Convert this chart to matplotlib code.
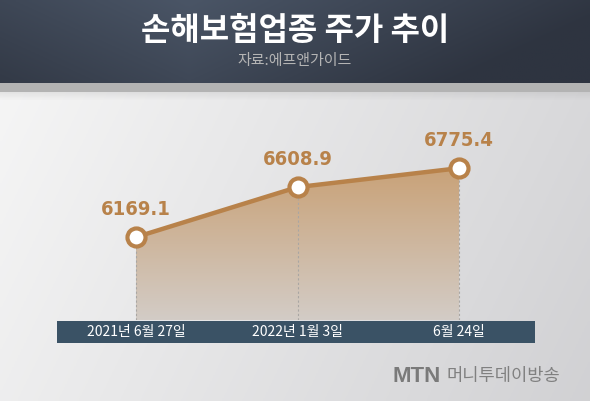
import numpy as np
import matplotlib
matplotlib.use("Agg")
import matplotlib.pyplot as plt
from matplotlib.patches import Rectangle, Polygon

# --- data ---------------------------------------------------------------
dates = ["2021년 6월 27일", "2022년 1월 3일", "6월 24일"]
values = [6169.1, 6608.9, 6775.4]
title = "손해보험업종 주가 추이"
source = "자료:에프앤가이드"

W, H = 590, 401
KR = ["Noto Sans CJK KR", "DejaVu Sans"]
BROWN = "#b8824a"

fig = plt.figure(figsize=(W / 100, H / 100), dpi=100)

# background layer in pixel coordinates
bg = fig.add_axes([0, 0, 1, 1])
bg.set_xlim(0, W)
bg.set_ylim(H, 0)
bg.axis("off")

# light page gradient (white upper-left -> grey right)
gx, gy = np.meshgrid(np.linspace(0, 1, 200), np.linspace(0, 1, 140))
t = np.clip(0.75 * gx + 0.25 * gy, 0, 1)
c0 = np.array([0.97, 0.97, 0.97])
c1 = np.array([0.82, 0.82, 0.83])
page = c0 + (c1 - c0) * t[..., None]
bg.imshow(page, extent=[0, W, H, 0], aspect="auto", zorder=0)

# dark header band
hx, hy = np.meshgrid(np.linspace(0, 1, 300), np.linspace(0, 1, 40))
d = np.abs(hx - 0.32) + 0.3 * hy
d = np.clip(d / 0.75, 0, 1)
h0 = np.array([0x4a, 0x55, 0x66]) / 255
h1 = np.array([0x2e, 0x34, 0x40]) / 255
head = h0 + (h1 - h0) * d[..., None]
bg.imshow(head, extent=[0, W, 83, 0], aspect="auto", zorder=1)
bg.add_patch(Rectangle((0, 83), W, 9, color="#b3b3b3", lw=0, zorder=1))
for i in range(8):
    bg.add_patch(Rectangle((0, 92 + i), W, 1, color="#9a9a9a",
                           alpha=0.18 * (1 - i / 8), lw=0, zorder=1))

bg.text(W / 2, 31, title, color="white", fontsize=23, fontweight="heavy",
        family=KR, ha="center", va="center", zorder=3)
bg.text(W / 2, 61, source, color="#b4b4b4", fontsize=10.8, family=KR,
        ha="center", va="center", zorder=3)

# category bar
bg.add_patch(Rectangle((57, 321), 478, 22, color="#3a5265", lw=0, zorder=2))

# footer
bg.text(441, 376, "MTN", color="#7a7a7a", fontsize=16, fontweight="heavy",
        family=["Liberation Sans", "DejaVu Sans"], ha="right", va="center", zorder=3)
bg.text(447, 376, "머니투데이방송", color="#808080", fontsize=12.7, family=KR,
        ha="left", va="center", zorder=3)

# --- chart axes -----------------------------------------------------------
left_px, right_px, top_px, bot_px = 57, 535, 100, 320
ax = fig.add_axes([left_px / W, 1 - bot_px / H,
                   (right_px - left_px) / W, (bot_px - top_px) / H])
ax.patch.set_alpha(0)
ax.axis("off")

x = np.arange(len(values))
ylo = 5440

# gradient fill under the line
fy = np.linspace(0, 1, 100)[:, None]
top_c = np.array([0xc9, 0xa2, 0x78]) / 255
bot_c = np.array([0xd3, 0xcc, 0xc6]) / 255
grad = top_c + (bot_c - top_c) * fy
grad = np.repeat(grad[:, None, :], 2, axis=1).reshape(100, 2, 3)
im = ax.imshow(grad, extent=[x[0], x[-1], ylo, max(values)], aspect="auto",
               zorder=1, origin="upper")
poly = Polygon(list(zip(x, values)) + [(x[-1], ylo), (x[0], ylo)],
               closed=True, transform=ax.transData)
im.set_clip_path(poly)
ax.set_xlim(-0.489, 2.47)
ax.set_ylim(ylo, 7375)

ax.vlines(x, ylo, values, colors="#a9a6a3", linestyles=(0, (2, 2)), lw=0.8, zorder=2)
ax.plot(x, values, color=BROWN, lw=3.2, zorder=3, solid_capstyle="round")
ax.plot(x, values, "o", ms=13, mfc="white", mec=BROWN, mew=3, zorder=4)

for xi, v in zip(x, values):
    ax.annotate(f"{v:.1f}", (xi, v), xytext=(0, 20), textcoords="offset points",
                ha="center", va="center", color=BROWN, fontsize=14.5,
                fontweight="bold", fontstretch="condensed", family="DejaVu Sans",
                zorder=5)

for xi, lab in zip(x, dates):
    ax.annotate(lab, (xi, ylo), xytext=(0, -8.5), textcoords="offset points",
                ha="center", va="center", color="white", fontsize=10,
                family=KR, annotation_clip=False, zorder=5)

fig.savefig("out.png", dpi=100)
